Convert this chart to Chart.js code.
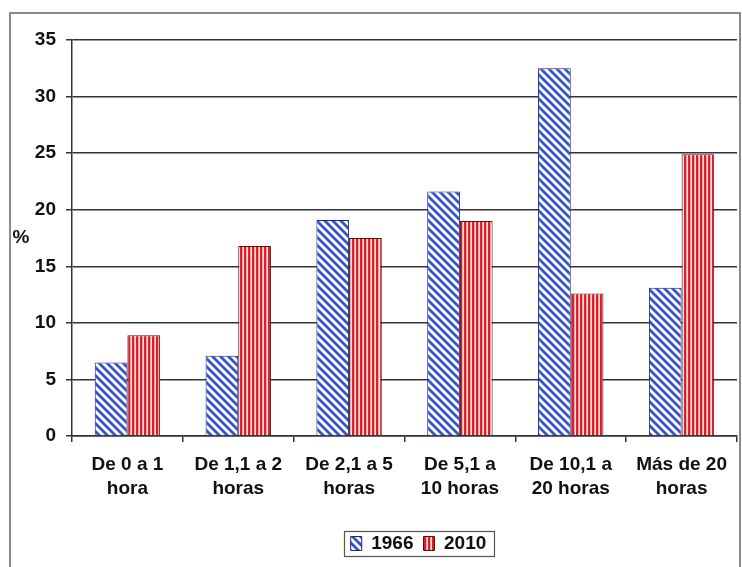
<!DOCTYPE html>
<html>
<head>
<meta charset="utf-8">
<script src="https://cdn.jsdelivr.net/npm/chart.js@4.4.1/dist/chart.umd.min.js"></script>
<style>
  html, body { margin: 0; padding: 0; background: #fff; }
  #wrap { width: 742px; height: 567px; position: relative; }
</style>
</head>
<body>
<div id="wrap"><canvas id="c" width="742" height="567"></canvas></div>
<script>
// Horas de uso por semana: distribución porcentual
const categories = [
  ['De 0 a 1', 'hora'],
  ['De 1,1 a 2', 'horas'],
  ['De 2,1 a 5', 'horas'],
  ['De 5,1 a', '10 horas'],
  ['De 10,1 a', '20 horas'],
  ['Más de 20', 'horas']
];
const seriesNames = ['1966', '2010'];
const values1966 = [6.5, 7.1, 19.1, 21.6, 32.5, 13.1];
const values2010 = [8.9, 16.8, 17.5, 19.0, 12.6, 24.9];
const yTicks = [0, 5, 10, 15, 20, 25, 30, 35];

const FONT = '"Liberation Sans", Arial, sans-serif';

// Hatch fills: blue diagonal stripes, red vertical stripes
function diagonalPattern() {
  const s = 8;
  const cv = document.createElement('canvas');
  cv.width = s; cv.height = s;
  const g = cv.getContext('2d');
  g.fillStyle = '#ffffff';
  g.fillRect(0, 0, s, s);
  g.strokeStyle = '#3553cc';
  g.lineWidth = 2.8;
  g.beginPath();
  for (let k = -1; k <= 1; k++) {
    g.moveTo(k * s - 1, -1);
    g.lineTo(k * s + s + 1, s + 1);
  }
  g.stroke();
  return g.createPattern(cv, 'repeat');
}
function verticalPattern() {
  const cv = document.createElement('canvas');
  cv.width = 4; cv.height = 4;
  const g = cv.getContext('2d');
  g.fillStyle = '#e11d27'; g.fillRect(0, 0, 2, 4);
  g.fillStyle = '#f2a0a3'; g.fillRect(2, 0, 1, 4);
  g.fillStyle = '#fbe3e4'; g.fillRect(3, 0, 1, 4);
  return g.createPattern(cv, 'repeat');
}

const LEGEND_SHIFT = 45;

const framePlugin = {
  id: 'frame',
  afterLayout(chart) {
    const lg = chart.legend;
    if (lg) { lg.left += LEGEND_SHIFT; lg.right += LEGEND_SHIFT; }
  },
  beforeDraw(chart) {
    const ctx = chart.ctx;
    ctx.save();
    ctx.fillStyle = '#fff';
    ctx.fillRect(0, 0, chart.width, chart.height);
    ctx.strokeStyle = '#8a8a8a';
    ctx.lineWidth = 2;
    ctx.strokeRect(10, 13, 730, 570);
    ctx.restore();
  },
  afterDraw(chart) {
    const ctx = chart.ctx;
    ctx.save();
    // axis unit label
    ctx.fillStyle = '#111';
    ctx.font = 'bold 19px ' + FONT;
    ctx.textAlign = 'center';
    ctx.textBaseline = 'middle';
    ctx.fillText('%', 21, 238);
    // box around legend entries
    const boxes = chart.legend.legendHitBoxes;
    if (boxes && boxes.length) {
      const l = boxes[0].left - 7;
      const r = boxes[boxes.length - 1].left + boxes[boxes.length - 1].width + 7;
      const t = boxes[0].top - 3;
      const b = boxes[0].top + boxes[0].height + 3;
      ctx.strokeStyle = '#555';
      ctx.lineWidth = 1.2;
      ctx.strokeRect(Math.round(l) + 0.5, Math.round(t) + 0.5, Math.round(r - l), Math.round(b - t));
    }
    ctx.restore();
  }
};

new Chart(document.getElementById('c'), {
  type: 'bar',
  data: {
    labels: categories,
    datasets: [
      {
        label: seriesNames[0],
        data: values1966,
        backgroundColor: diagonalPattern(),
        borderColor: '#1b2570',
        borderWidth: 1
      },
      {
        label: seriesNames[1],
        data: values2010,
        backgroundColor: verticalPattern(),
        borderColor: '#5a1010',
        borderWidth: 1
      }
    ]
  },
  options: {
    responsive: false,
    animation: false,
    layout: { padding: { left: 10, right: 5, top: 40, bottom: 4 } },
    datasets: { bar: { categoryPercentage: 0.59, barPercentage: 1.0 } },
    plugins: {
      tooltip: { enabled: false },
      legend: {
        position: 'bottom',
        labels: {
          boxWidth: 11,
          boxHeight: 14,
          padding: 10,
          color: '#111',
          font: { family: FONT, size: 19, weight: 'bold' }
        }
      }
    },
    scales: {
      x: {
        grid: {
          display: true,
          offset: true,
          drawOnChartArea: false,
          drawTicks: true,
          tickLength: 6,
          color: '#333',
          lineWidth: 1.5
        },
        border: { display: true, color: '#333', width: 1.5 },
        ticks: {
          color: '#111',
          padding: 10,
          maxRotation: 0,
          autoSkip: false,
          font: { family: FONT, size: 19, weight: 'bold', lineHeight: 1.3 }
        },
        afterFit(scale) { scale.height = 88; }
      },
      y: {
        min: 0,
        max: 35,
        afterBuildTicks(scale) { scale.ticks = yTicks.map(v => ({ value: v })); },
        grid: {
          color: '#333',
          lineWidth: 1.5,
          tickLength: 6
        },
        border: { display: true, color: '#333', width: 1.5 },
        ticks: {
          color: '#111',
          padding: 10,
          font: { family: FONT, size: 19, weight: 'bold' }
        },
        afterFit(scale) { scale.width = 62; }
      }
    }
  },
  plugins: [framePlugin]
});
</script>
</body>
</html>
